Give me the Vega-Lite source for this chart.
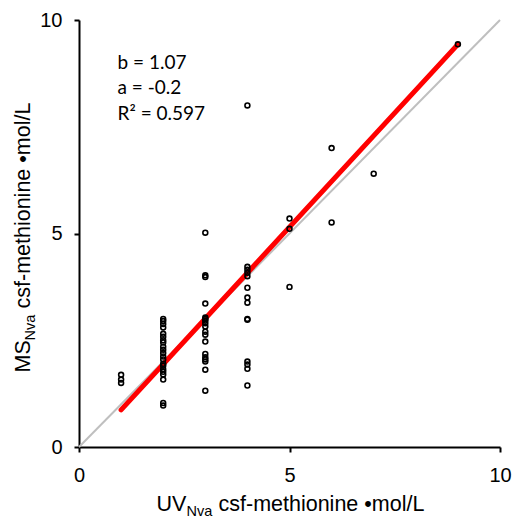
{
  "$schema": "https://vega.github.io/schema/vega-lite/v6.json",
  "width": 421,
  "height": 427,
  "autosize": "none",
  "padding": {"left": 79, "top": 20, "right": 15, "bottom": 71},
  "background": "white",
  "config": {
    "view": {"stroke": null},
    "axis": {
      "domainColor": "#000000",
      "domainWidth": 2,
      "tickColor": "#000000",
      "tickWidth": 2,
      "tickSize": 5,
      "labelFont": "Liberation Sans",
      "labelFontSize": 20,
      "labelColor": "#000000",
      "grid": false,
      "labelFlush": false,
      "labelOverlap": false
    },
    "axisX": {"labelPadding": 13},
    "axisY": {"labelPadding": 12}
  },
  "datasets": {
    "pts": [
      {"x": 1, "y": 1.69}, {"x": 1, "y": 1.58}, {"x": 1, "y": 1.5},
      {"x": 2, "y": 3.0}, {"x": 2, "y": 2.95}, {"x": 2, "y": 2.88}, {"x": 2, "y": 2.8}, {"x": 2, "y": 2.65},
      {"x": 2, "y": 2.58}, {"x": 2, "y": 2.5}, {"x": 2, "y": 2.45}, {"x": 2, "y": 2.35}, {"x": 2, "y": 2.28},
      {"x": 2, "y": 2.2}, {"x": 2, "y": 2.12}, {"x": 2, "y": 2.05}, {"x": 2, "y": 1.95}, {"x": 2, "y": 1.9},
      {"x": 2, "y": 1.82}, {"x": 2, "y": 1.76}, {"x": 2, "y": 1.7}, {"x": 2, "y": 1.58}, {"x": 2, "y": 1.03},
      {"x": 2, "y": 0.97},
      {"x": 3, "y": 5.02}, {"x": 3, "y": 4.02}, {"x": 3, "y": 3.98}, {"x": 3, "y": 3.36}, {"x": 3, "y": 3.03},
      {"x": 3, "y": 3.0}, {"x": 3, "y": 2.96}, {"x": 3, "y": 2.9}, {"x": 3, "y": 2.82}, {"x": 3, "y": 2.7},
      {"x": 3, "y": 2.63}, {"x": 3, "y": 2.47}, {"x": 3, "y": 2.18}, {"x": 3, "y": 2.1}, {"x": 3, "y": 2.05},
      {"x": 3, "y": 2.0}, {"x": 3, "y": 1.81}, {"x": 3, "y": 1.32},
      {"x": 4, "y": 8.0}, {"x": 4, "y": 4.22}, {"x": 4, "y": 4.15}, {"x": 4, "y": 4.08}, {"x": 4, "y": 4.0},
      {"x": 4, "y": 3.73}, {"x": 4, "y": 3.5}, {"x": 4, "y": 3.38}, {"x": 4, "y": 3.0}, {"x": 4, "y": 2.98},
      {"x": 4, "y": 2.0}, {"x": 4, "y": 1.93}, {"x": 4, "y": 1.83}, {"x": 4, "y": 1.44},
      {"x": 5, "y": 5.35}, {"x": 5, "y": 5.11}, {"x": 5, "y": 3.75},
      {"x": 6, "y": 7.0}, {"x": 6, "y": 5.26},
      {"x": 7, "y": 6.4},
      {"x": 9, "y": 9.43}
    ],
    "fit": [{"x": 1, "y": 0.87}, {"x": 9, "y": 9.43}],
    "ident": [{"x": 0, "y": 0}, {"x": 10, "y": 10}]
  },
  "layer": [
    {
      "data": {"name": "ident"},
      "mark": {"type": "line", "color": "#bfbfbf", "strokeWidth": 2},
      "encoding": {
        "x": {"field": "x", "type": "quantitative", "scale": {"domain": [0, 10]}, "axis": {"values": [0, 5, 10]}, "title": null},
        "y": {"field": "y", "type": "quantitative", "scale": {"domain": [0, 10]}, "axis": {"values": [0, 5, 10]}, "title": null}
      }
    },
    {
      "data": {"name": "fit"},
      "mark": {"type": "line", "color": "#ff0000", "strokeWidth": 5, "strokeCap": "round"},
      "encoding": {
        "x": {"field": "x", "type": "quantitative", "scale": {"domain": [0, 10]}, "axis": {"values": [0, 5, 10]}, "title": null},
        "y": {"field": "y", "type": "quantitative", "scale": {"domain": [0, 10]}, "axis": {"values": [0, 5, 10]}, "title": null}
      }
    },
    {
      "data": {"name": "pts"},
      "mark": {"type": "point", "shape": "circle", "filled": false, "color": "#000000", "strokeWidth": 1.6, "size": 24, "opacity": 1},
      "encoding": {
        "x": {"field": "x", "type": "quantitative", "scale": {"domain": [0, 10]}, "axis": {"values": [0, 5, 10]}, "title": null},
        "y": {"field": "y", "type": "quantitative", "scale": {"domain": [0, 10]}, "axis": {"values": [0, 5, 10]}, "title": null}
      }
    },
    {
      "data": {"values": [{}]},
      "mark": {"type": "text", "text": ["b = 1.07", "a = -0.2", "R² = 0.597"], "font": "Lato", "fontSize": 19, "lineHeight": 25.5, "align": "left", "baseline": "alphabetic", "color": "#000000"},
      "encoding": {
        "x": {"datum": 0.915, "type": "quantitative", "scale": {"domain": [0, 10]}, "axis": {"values": [0, 5, 10]}, "title": null},
        "y": {"datum": 8.86, "type": "quantitative", "scale": {"domain": [0, 10]}, "axis": {"values": [0, 5, 10]}, "title": null}
      }
    },
    {
      "data": {"values": [{}]},
      "mark": {"type": "text", "text": "UV", "font": "Liberation Sans", "fontSize": 21.5, "align": "left", "baseline": "alphabetic", "dx": -133, "color": "#000000"},
      "encoding": {
        "x": {"datum": 5, "type": "quantitative", "scale": {"domain": [0, 10]}, "axis": {"values": [0, 5, 10]}, "title": null},
        "y": {"datum": -1.5, "type": "quantitative", "scale": {"domain": [0, 10]}, "axis": {"values": [0, 5, 10]}, "title": null}
      }
    },
    {
      "data": {"values": [{}]},
      "mark": {"type": "text", "text": "Nva", "font": "Liberation Sans", "fontSize": 14.5, "align": "left", "baseline": "alphabetic", "dx": -103, "dy": 5, "color": "#000000"},
      "encoding": {
        "x": {"datum": 5, "type": "quantitative", "scale": {"domain": [0, 10]}, "axis": {"values": [0, 5, 10]}, "title": null},
        "y": {"datum": -1.5, "type": "quantitative", "scale": {"domain": [0, 10]}, "axis": {"values": [0, 5, 10]}, "title": null}
      }
    },
    {
      "data": {"values": [{}]},
      "mark": {"type": "text", "text": "csf-methionine •mol/L", "font": "Liberation Sans", "fontSize": 21.5, "align": "left", "baseline": "alphabetic", "dx": -71, "color": "#000000"},
      "encoding": {
        "x": {"datum": 5, "type": "quantitative", "scale": {"domain": [0, 10]}, "axis": {"values": [0, 5, 10]}, "title": null},
        "y": {"datum": -1.5, "type": "quantitative", "scale": {"domain": [0, 10]}, "axis": {"values": [0, 5, 10]}, "title": null}
      }
    },
    {
      "data": {"values": [{}]},
      "mark": {"type": "text", "text": "MS", "font": "Liberation Sans", "fontSize": 21.5, "align": "left", "baseline": "alphabetic", "angle": 270, "dx": -139, "color": "#000000"},
      "encoding": {
        "x": {"datum": -1.16, "type": "quantitative", "scale": {"domain": [0, 10]}, "axis": {"values": [0, 5, 10]}, "title": null},
        "y": {"datum": 5, "type": "quantitative", "scale": {"domain": [0, 10]}, "axis": {"values": [0, 5, 10]}, "title": null}
      }
    },
    {
      "data": {"values": [{}]},
      "mark": {"type": "text", "text": "Nva", "font": "Liberation Sans", "fontSize": 14.5, "align": "left", "baseline": "alphabetic", "angle": 270, "dx": -107, "dy": 5, "color": "#000000"},
      "encoding": {
        "x": {"datum": -1.16, "type": "quantitative", "scale": {"domain": [0, 10]}, "axis": {"values": [0, 5, 10]}, "title": null},
        "y": {"datum": 5, "type": "quantitative", "scale": {"domain": [0, 10]}, "axis": {"values": [0, 5, 10]}, "title": null}
      }
    },
    {
      "data": {"values": [{}]},
      "mark": {"type": "text", "text": "csf-methionine •mol/L", "font": "Liberation Sans", "fontSize": 21.5, "align": "left", "baseline": "alphabetic", "angle": 270, "dx": -75, "color": "#000000"},
      "encoding": {
        "x": {"datum": -1.16, "type": "quantitative", "scale": {"domain": [0, 10]}, "axis": {"values": [0, 5, 10]}, "title": null},
        "y": {"datum": 5, "type": "quantitative", "scale": {"domain": [0, 10]}, "axis": {"values": [0, 5, 10]}, "title": null}
      }
    }
  ]
}
